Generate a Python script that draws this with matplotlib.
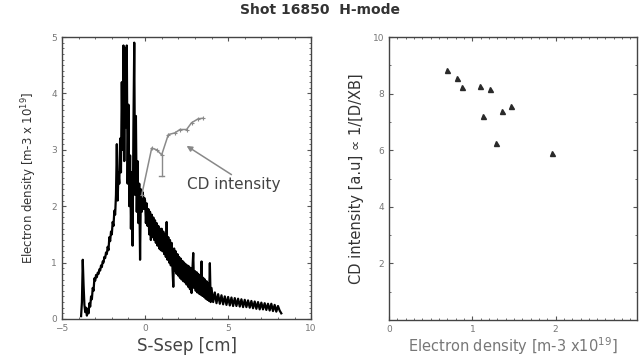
import matplotlib
matplotlib.use('Agg')
import matplotlib.pyplot as plt
import numpy as np
from matplotlib.ticker import MultipleLocator

plt.rcParams['font.family'] = ['DejaVu Sans']

# electron density along the divertor leg (S - Ssep, cm), three sampling blocks
dens_x_edge = np.linspace(-3.85, -0.05, 77)
dens_y_edge = [
    0.05, 0.30, 1.05, 0.60, 0.25, 0.12, 0.20, 0.06, 0.18, 0.10,
    0.28, 0.22, 0.40, 0.35, 0.55, 0.50, 0.72, 0.68, 0.78, 0.74,
    0.82, 0.80, 0.88, 0.86, 0.95, 0.92, 1.02, 1.00, 1.10, 1.08,
    1.18, 1.15, 1.28, 1.22, 1.45, 1.38, 1.55, 1.50, 1.72, 1.65,
    1.92, 1.85, 2.20, 3.10, 2.10, 2.60, 2.40, 3.20, 2.60, 4.20,
    3.00, 4.85, 2.80, 4.80, 3.40, 4.85, 2.40, 3.80, 2.00, 2.90,
    1.60, 2.60, 1.30, 3.40, 4.90, 2.20, 3.60, 1.90, 2.80, 1.70,
    2.40, 1.05, 2.30, 1.90, 2.25, 1.95, 2.15,
]
dens_x_mid = np.linspace(0.0, 4.0, 81)
dens_y_mid = [
    2.10, 1.70, 2.05, 1.65, 1.95, 1.50, 1.90, 1.40, 1.85, 1.45,
    1.80, 1.40, 1.75, 1.35, 1.70, 1.30, 1.65, 1.25, 1.60, 1.22,
    1.60, 1.20, 1.55, 1.15, 1.50, 1.10, 1.72, 1.05, 1.45, 1.00,
    1.40, 0.95, 1.35, 0.90, 0.57, 1.25, 0.85, 1.20, 0.80, 1.15,
    0.77, 1.10, 0.73, 1.07, 0.70, 1.03, 0.67, 1.00, 0.65, 0.97,
    0.61, 0.95, 0.57, 0.93, 0.53, 0.90, 0.46, 0.87, 1.17, 0.55,
    0.85, 0.50, 0.83, 0.47, 0.80, 0.45, 0.77, 0.43, 1.02, 0.41,
    0.73, 0.39, 0.70, 0.36, 0.67, 0.34, 0.63, 0.32, 0.99, 0.30,
    0.55,
]
dens_x_tail = np.linspace(4.1, 8.2, 42)
dens_y_tail = [
    0.30, 0.47, 0.28, 0.44, 0.27, 0.42, 0.26, 0.40, 0.25, 0.39,
    0.24, 0.38, 0.23, 0.37, 0.23, 0.36, 0.22, 0.35, 0.21, 0.34,
    0.21, 0.33, 0.20, 0.32, 0.19, 0.31, 0.18, 0.30, 0.17, 0.29,
    0.17, 0.28, 0.16, 0.27, 0.15, 0.27, 0.14, 0.25, 0.13, 0.23,
    0.15, 0.10,
]

# CD band intensity (arbitrary units, same vertical scale)
cd_x = [-0.2, 0.4, 0.7, 1.0, 1.4, 1.8, 2.1, 2.5, 2.8, 3.2, 3.5]
cd_y = [2.2, 3.03, 3.0, 2.91, 3.27, 3.30, 3.36, 3.36, 3.48, 3.55, 3.56]
cd_err_x = 1.0
cd_err_lo = 2.53

# CD intensity versus electron density
ne_vals = [0.70, 0.81, 0.87, 1.09, 1.21, 1.13, 1.36, 1.46, 1.29, 1.96]
cd_vals = [8.83, 8.54, 8.24, 8.27, 8.17, 7.21, 7.38, 7.58, 6.27, 5.89]

dens_x = np.concatenate([dens_x_edge, dens_x_mid, dens_x_tail])
dens_y = np.concatenate([dens_y_edge, dens_y_mid, dens_y_tail])

fig = plt.figure(figsize=(6.39, 3.56), dpi=100)
ax1 = fig.add_axes([0.097, 0.104, 0.390, 0.792])
ax2 = fig.add_axes([0.609, 0.101, 0.388, 0.795])

tick_col = '#777777'
for ax in (ax1, ax2):
    ax.tick_params(which='both', direction='in', top=True, right=True,
                   labelsize=6.5, labelcolor=tick_col, colors='#555555')
    ax.tick_params(which='major', length=3, width=0.8)
    ax.tick_params(which='minor', length=1.5, width=0.6)
    for sp in ax.spines.values():
        sp.set_color('#444444')
        sp.set_linewidth(1.0)

ax1.plot(dens_x, dens_y, color='black', lw=1.6)
ax1.plot(cd_x, cd_y, color='#8a8a8a', lw=1.1, marker='+', ms=3, mew=0.8)
ax1.plot([cd_err_x, cd_err_x], [cd_y[3], cd_err_lo], color='#8a8a8a', lw=1.0)
ax1.plot([cd_err_x - 0.15, cd_err_x + 0.15], [cd_err_lo, cd_err_lo],
         color='#8a8a8a', lw=1.0)
ax1.annotate('', xy=(2.5, 3.07), xytext=(5.2, 2.56),
             arrowprops=dict(arrowstyle='-|>', color='#888888', lw=1.1,
                             shrinkA=0, shrinkB=0, mutation_scale=8))
ax1.text(2.5, 2.38, 'CD intensity', fontsize=11, color='#444444',
         va='center', ha='left')
ax1.set_xlim(-5, 10)
ax1.set_ylim(0, 5)
ax1.xaxis.set_major_locator(MultipleLocator(5))
ax1.xaxis.set_minor_locator(MultipleLocator(1))
ax1.yaxis.set_major_locator(MultipleLocator(1))
ax1.yaxis.set_minor_locator(MultipleLocator(0.1))
ax1.set_xlabel('S-Ssep [cm]', fontsize=12, color='#444444', labelpad=3)
ax1.set_ylabel('Electron density [m-3 x 10$^{19}$]', fontsize=8.5,
               color='#333333', labelpad=9)

ax2.plot(ne_vals, cd_vals, linestyle='none', marker='^', ms=3.6,
         color='#2a2a2a')
ax2.set_xlim(0, 2.98)
ax2.set_ylim(0, 10)
ax2.xaxis.set_major_locator(MultipleLocator(1))
ax2.xaxis.set_minor_locator(MultipleLocator(0.1))
ax2.set_yticks([2, 4, 6, 8, 10])
ax2.yaxis.set_minor_locator(MultipleLocator(1))
ax2.set_xlabel('Electron density [m-3 x10$^{19}$]', fontsize=10.5,
               color='#777777', labelpad=1)
ax2.set_ylabel('CD intensity [a.u] \u221d 1/[D/XB]', fontsize=10.5,
               color='#333333', labelpad=6)

fig.text(0.5, 0.972, 'Shot 16850  H-mode', ha='center', va='center',
         fontsize=10, fontweight='bold', color='#333333')

fig.savefig('out.png', dpi=100)
